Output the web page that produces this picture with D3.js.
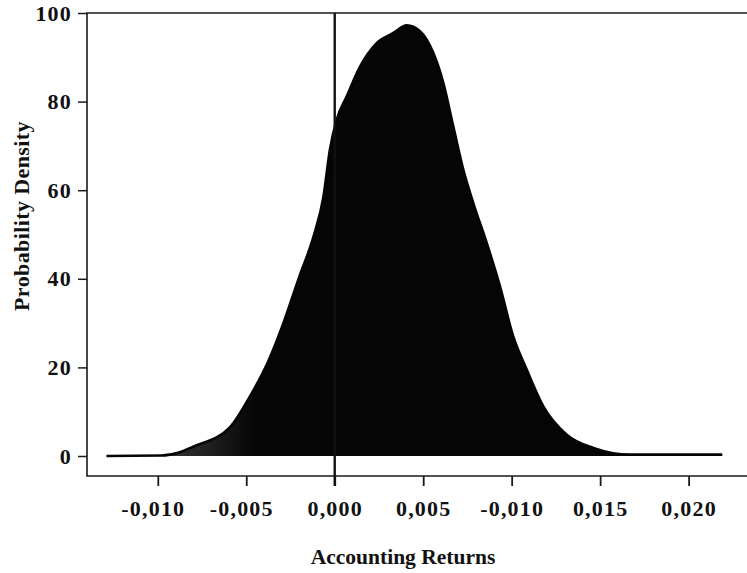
<!DOCTYPE html>
<html>
<head>
<meta charset="utf-8">
<script src="https://cdn.jsdelivr.net/npm/d3@7"></script>
<style>
    body { margin: 0; background: #fff; }
    svg { display: block; }
    .tick text { font-family: "Liberation Serif", "Times New Roman", serif; font-weight: bold; fill: #111; }
</style>
</head>
<body>
<svg id="chart" width="747" height="573"></svg>
<script>
/*
    Density curve
 */
var returns = [-0.0129, -0.0098, -0.0088, -0.0080, -0.0059, -0.0048, -0.0038, -0.0029, -0.0020, -0.0012,
    -0.00064, -0.00027, 0.00011, 0.00068, 0.00143, 0.00237, 0.00331, 0.00407, 0.00482, 0.00557,
    0.00614, 0.00670, 0.00727, 0.00783, 0.00859, 0.00934, 0.01009, 0.01085, 0.01179, 0.01311,
    0.01462, 0.01669, 0.0219];
var density = [0, 0.1, 0.8, 2.1, 6.6, 13.4, 21.0, 30.0, 40.5, 49.5,
    58.5, 69.2, 75.9, 81.2, 87.9, 93.2, 95.5, 97.2, 95.9, 91.0,
    84.2, 74.4, 64.6, 57.1, 48.1, 38.3, 27.0, 19.5, 11.2, 4.8,
    1.8, 0.3, 0.3];

/*
    Axis ticks and labels (the fifth label is printed that way in the original)
 */
var xTicks = [-0.010, -0.005, 0, 0.005, 0.010, 0.015, 0.020];
var xTickLabels = ["-0,010", "-0,005", "0,000", "0,005", "-0,010", "0,015", "0,020"];
var yTicks = [0, 20, 40, 60, 80, 100];

var xTitle = "Accounting Returns";
var yTitle = "Probability Density";

var width = 747;
var height = 573;

var frameLeft = 87,
    frameTop = 13,
    frameBottom = 476;

var svg = d3.select("#chart");

var x = d3.scaleLinear()
    .domain([-0.014, 0.0233])
    .range([frameLeft, width]);

var y = d3.scaleLinear()
    .domain([0, 100])
    .range([456, frameTop]);

var points = returns.map(function (r, i) {
    return {r: r, d: density[i]};
});

// the printed fill is a little greyer in the left tail
var grad = svg.append("defs").append("linearGradient")
    .attr("id", "tailShade")
    .attr("gradientUnits", "userSpaceOnUse")
    .attr("x1", x(-0.0105)).attr("x2", x(-0.0045))
    .attr("y1", 0).attr("y2", 0);

grad.append("stop").attr("offset", 0).attr("stop-color", "#3c3c3c");
grad.append("stop").attr("offset", 0.6).attr("stop-color", "#1e1e1e");
grad.append("stop").attr("offset", 1).attr("stop-color", "#050505");

var area = d3.area()
    .x(function (d) { return x(d.r); })
    .y0(y(0))
    .y1(function (d) { return y(d.d); })
    .curve(d3.curveMonotoneX);

var line = d3.line()
    .x(function (d) { return x(d.r); })
    .y(function (d) { return y(d.d); })
    .curve(d3.curveMonotoneX);

svg.append("path")
    .datum(points)
    .attr("d", area)
    .attr("fill", "url(#tailShade)");

svg.append("path")
    .datum(points)
    .attr("d", line)
    .attr("fill", "none")
    .attr("stroke", "#050505")
    .attr("stroke-width", 2.6);

// frame: left, top and bottom (right side runs off the page)
svg.append("path")
    .attr("d", "M" + width + "," + frameTop + "H" + frameLeft + "V" + frameBottom + "H" + width)
    .attr("fill", "none")
    .attr("stroke", "#1a1a1a")
    .attr("stroke-width", 1.6);

// y axis
var yAxis = d3.axisLeft(y)
    .tickValues(yTicks)
    .tickSize(9)
    .tickPadding(6)
    .tickFormat(d3.format("d"));

var yG = svg.append("g")
    .attr("transform", "translate(" + frameLeft + ",0)")
    .call(yAxis);

yG.select(".domain").remove();
yG.selectAll(".tick line").attr("stroke", "#1a1a1a").attr("stroke-width", 1.5);
yG.selectAll(".tick text")
    .attr("font-size", 22)
    .attr("letter-spacing", "1.2px");

// x axis
var xAxis = d3.axisBottom(x)
    .tickValues(xTicks)
    .tickSize(10)
    .tickPadding(14)
    .tickFormat(function (d, i) { return xTickLabels[i]; });

var xG = svg.append("g")
    .attr("transform", "translate(0," + frameBottom + ")")
    .call(xAxis);

xG.select(".domain").remove();
xG.selectAll(".tick line").attr("stroke", "#1a1a1a").attr("stroke-width", 1.8);
xG.selectAll(".tick text")
    .attr("font-size", 22)
    .attr("letter-spacing", "1.2px")
    .attr("dx", function (d) { return d < 0 ? -5 : 0; });

// vertical reference line at zero
svg.append("line")
    .attr("x1", x(0))
    .attr("x2", x(0))
    .attr("y1", frameTop)
    .attr("y2", frameBottom + 10)
    .attr("stroke", "#111")
    .attr("stroke-width", 2.4);

// titles
svg.append("text")
    .attr("x", 403)
    .attr("y", 564)
    .attr("text-anchor", "middle")
    .attr("font-family", "'Liberation Serif', 'Times New Roman', serif")
    .attr("font-weight", "bold")
    .attr("font-size", 21.5)
    .attr("fill", "#111")
    .text(xTitle);

svg.append("text")
    .attr("transform", "translate(29,216) rotate(-90)")
    .attr("text-anchor", "middle")
    .attr("font-family", "'Liberation Serif', 'Times New Roman', serif")
    .attr("font-weight", "bold")
    .attr("font-size", 22)
    .attr("letter-spacing", "0.4px")
    .attr("fill", "#111")
    .text(yTitle);
</script>
</body>
</html>
